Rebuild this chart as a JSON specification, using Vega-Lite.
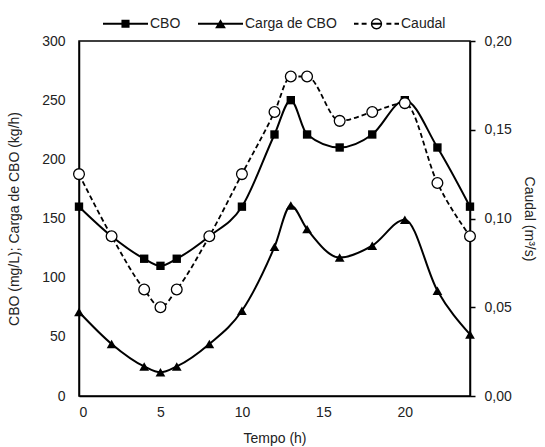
{
  "$schema": "https://vega.github.io/schema/vega-lite/v6.json",
  "width": 391,
  "height": 355,
  "padding": {"left": 7, "right": 5, "top": 1, "bottom": 1},
  "config": {
    "font": "Liberation Sans",
    "view": {"stroke": "black", "strokeWidth": 1.5},
    "locale": {"number": {"decimal": ",", "thousands": ".", "grouping": [3], "currency": ["", " €"]}},
    "axis": {"labelFont": "Liberation Sans", "titleFont": "Liberation Sans", "labelFontSize": 14, "titleFontSize": 14, "titleFontWeight": "normal", "labelColor": "#222", "titleColor": "#222", "domainColor": "black", "domainWidth": 1.5, "grid": false},
    "legend": {"layout": {"top": {"anchor": "middle"}}}
  },
  "data": {
    "values": [
      {"t": 0, "serie": "CBO", "v": 160}, {"t": 2, "serie": "CBO", "v": 135}, {"t": 4, "serie": "CBO", "v": 116}, {"t": 5, "serie": "CBO", "v": 110}, {"t": 6, "serie": "CBO", "v": 116}, {"t": 8, "serie": "CBO", "v": 135}, {"t": 10, "serie": "CBO", "v": 160}, {"t": 12, "serie": "CBO", "v": 221}, {"t": 13, "serie": "CBO", "v": 250}, {"t": 14, "serie": "CBO", "v": 221}, {"t": 16, "serie": "CBO", "v": 210}, {"t": 18, "serie": "CBO", "v": 221}, {"t": 20, "serie": "CBO", "v": 250}, {"t": 22, "serie": "CBO", "v": 210}, {"t": 24, "serie": "CBO", "v": 160},
      {"t": 0, "serie": "Carga de CBO", "v": 71}, {"t": 2, "serie": "Carga de CBO", "v": 44}, {"t": 4, "serie": "Carga de CBO", "v": 25}, {"t": 5, "serie": "Carga de CBO", "v": 20}, {"t": 6, "serie": "Carga de CBO", "v": 25}, {"t": 8, "serie": "Carga de CBO", "v": 44}, {"t": 10, "serie": "Carga de CBO", "v": 72}, {"t": 12, "serie": "Carga de CBO", "v": 126}, {"t": 13, "serie": "Carga de CBO", "v": 161}, {"t": 14, "serie": "Carga de CBO", "v": 141}, {"t": 16, "serie": "Carga de CBO", "v": 117}, {"t": 18, "serie": "Carga de CBO", "v": 127}, {"t": 20, "serie": "Carga de CBO", "v": 149}, {"t": 22, "serie": "Carga de CBO", "v": 89}, {"t": 24, "serie": "Carga de CBO", "v": 52},
      {"t": 0, "serie": "Caudal", "v": 0.125}, {"t": 2, "serie": "Caudal", "v": 0.09}, {"t": 4, "serie": "Caudal", "v": 0.06}, {"t": 5, "serie": "Caudal", "v": 0.05}, {"t": 6, "serie": "Caudal", "v": 0.06}, {"t": 8, "serie": "Caudal", "v": 0.09}, {"t": 10, "serie": "Caudal", "v": 0.125}, {"t": 12, "serie": "Caudal", "v": 0.16}, {"t": 13, "serie": "Caudal", "v": 0.18}, {"t": 14, "serie": "Caudal", "v": 0.18}, {"t": 16, "serie": "Caudal", "v": 0.155}, {"t": 18, "serie": "Caudal", "v": 0.16}, {"t": 20, "serie": "Caudal", "v": 0.165}, {"t": 22, "serie": "Caudal", "v": 0.12}, {"t": 24, "serie": "Caudal", "v": 0.09}
    ]
  },
  "layer": [
    {
      "encoding": {
        "x": {"field": "t", "type": "quantitative", "scale": {"domain": [0, 24], "nice": false}, "axis": {"values": [0, 5, 10, 15, 20], "ticks": false, "labelPadding": 9, "title": "Tempo (h)", "titlePadding": 12}},
        "y": {"field": "v", "type": "quantitative", "scale": {"domain": [0, 300]}, "axis": {"values": [0, 50, 100, 150, 200, 250, 300], "ticks": false, "labelPadding": 14, "title": "CBO (mg/L);  Carga de CBO (kg/h)", "titlePadding": 20}}
      },
      "layer": [
        {"transform": [{"filter": "datum.serie != 'Caudal'"}], "mark": {"type": "line", "interpolate": "monotone", "color": "black", "strokeWidth": 2}, "encoding": {"detail": {"field": "serie"}}},
        {"transform": [{"filter": "datum.serie == 'CBO'"}], "mark": {"type": "point", "shape": "square", "filled": true, "color": "black", "size": 70, "opacity": 1}},
        {"transform": [{"filter": "datum.serie == 'Carga de CBO'"}], "mark": {"type": "point", "shape": "triangle-up", "filled": true, "color": "black", "size": 95, "opacity": 1}}
      ]
    },
    {
      "encoding": {
        "x": {"field": "t", "type": "quantitative"},
        "y": {"field": "v", "type": "quantitative", "scale": {"domain": [0, 0.2]}, "axis": {"orient": "right", "values": [0, 0.05, 0.1, 0.15, 0.2], "format": ".2f", "tickSize": 5, "tickColor": "black", "tickWidth": 1.5, "labelPadding": 9, "title": "Caudal (m³/s)", "titlePadding": 10}}
      },
      "transform": [{"filter": "datum.serie == 'Caudal'"}],
      "layer": [
        {"mark": {"type": "line", "interpolate": "monotone", "color": "black", "strokeWidth": 1.8, "strokeDash": [5, 3]}},
        {"mark": {"type": "point", "shape": "circle", "filled": true, "fill": "white", "stroke": "black", "strokeWidth": 1.3, "size": 115, "opacity": 1}}
      ]
    },
    {
      "transform": [{"filter": "datum.t < 0"}],
      "mark": {"type": "point", "filled": true, "color": "black", "opacity": 1},
      "encoding": {
        "shape": {"field": "serie", "type": "nominal", "scale": {"domain": ["CBO", "Carga de CBO", "Caudal"], "range": [
          "M-1,-0.045H1V0.045H-1ZM-0.18,-0.18H0.18V0.18H-0.18Z",
          "M-1,-0.045H1V0.045H-1ZM0,-0.2L0.24,0.2H-0.24Z",
          "M-1,-0.045H-0.8V0.045H-1ZM-0.66,-0.045H-0.44V0.045H-0.66ZM0.44,-0.045H0.66V0.045H0.44ZM0.8,-0.045H1V0.045H0.8ZM-0.19,-0.045H0.19V0.045H-0.19ZM0.25,0A0.25,0.25 0 1,1 -0.25,0A0.25,0.25 0 1,1 0.25,0ZM0.19,0A0.19,0.19 0 1,0 -0.19,0A0.19,0.19 0 1,0 0.19,0Z"
        ]},
          "legend": {"orient": "top", "direction": "horizontal", "title": null, "symbolSize": 2025, "symbolFillColor": "black", "symbolStrokeWidth": 0, "symbolOpacity": 1, "labelFontSize": 14, "labelFont": "Liberation Sans", "labelColor": "#222", "columnPadding": 17, "labelOffset": 2, "offset": 10}}
      }
    }
  ],
  "resolve": {"scale": {"y": "independent"}}
}
